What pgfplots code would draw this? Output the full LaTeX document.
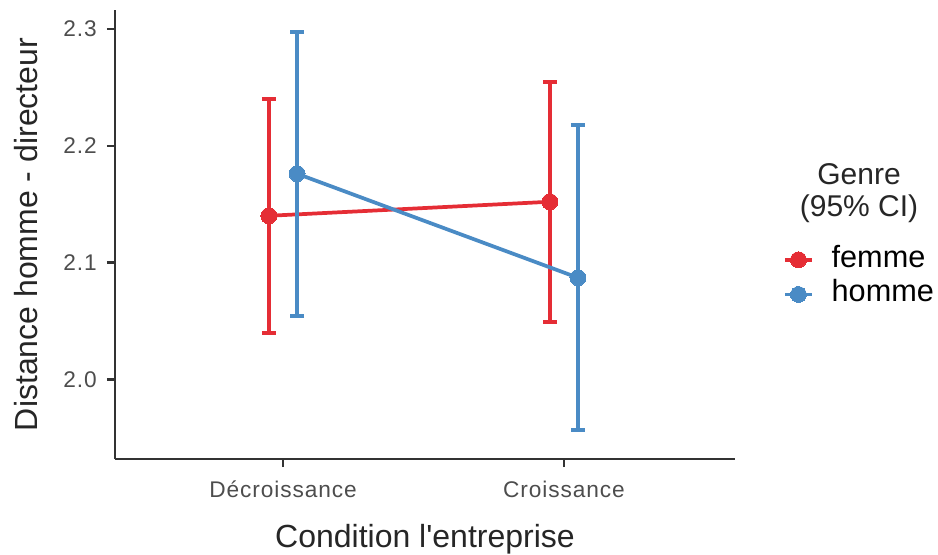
\documentclass[border=0pt]{standalone}
\usepackage{fontspec}
\setmainfont{Liberation Sans}
\newfontfamily\tickfont[LetterSpace=4]{Liberation Sans}
\usepackage{pgfplots}
\pgfplotsset{compat=1.18}
\definecolor{cfemme}{HTML}{E52D35}
\definecolor{chomme}{HTML}{4A8BC5}
\definecolor{axisgray}{HTML}{333333}
\definecolor{tickgray}{HTML}{4D4D4D}
\pgfplotstableread{
x y e
0.95 2.140 0.1000
1.95 2.152 0.1025
}\femme
\pgfplotstableread{
x y e
1.05 2.176 0.1215
2.05 2.087 0.1305
}\homme
\begin{document}
\begin{tikzpicture}
\path[use as bounding box] (0,0) rectangle (703.5pt,415.5pt);
\begin{axis}[
  at={(86.25pt,71.25pt)}, anchor=south west,
  scale only axis, width=465pt, height=336.75pt,
  xmin=0.402, xmax=2.609, ymin=1.932, ymax=2.316,
  axis lines=left, axis line style={-, draw=axisgray, line width=1.6pt},
  xtick={1,2}, xticklabels={Décroissance,Croissance},
  ytick={2.0,2.1,2.2,2.3},
  /pgf/number format/fixed, /pgf/number format/fixed zerofill, /pgf/number format/precision=1,
  /pgf/number format/assume math mode=true,
  ticklabel style={font=\tickfont\fontsize{17}{20}\selectfont, text=tickgray},
  xticklabel style={anchor=north, inner sep=0pt, yshift=-10.5pt},
  yticklabel style={anchor=east, inner sep=0pt, xshift=-7.5pt},
  tick align=outside, major tick length=6pt,
  tick style={draw=axisgray, line width=1.6pt},
  minor tick num=0,
  xlabel={Condition l\textquotesingle entreprise},
  ylabel={Distance homme - directeur},
  label style={font=\fontsize{24}{28}\selectfont, text=black!85, inner sep=0pt},
  xlabel style={at={(axis description cs:0.5,-0.196)}, anchor=base},
  ylabel style={at={(axis description cs:-0.1258,0.5)}, anchor=base},
  legend style={at={(axis description cs:1.0774,0.4050)}, anchor=west,
    draw=none, fill=none, inner sep=0pt, font=\fontsize{23}{24}\selectfont,
    row sep=5pt, nodes={inner sep=0pt, text height=16pt, text depth=5pt},
    /tikz/every odd column/.style={column sep=13.5pt}},
  legend cell align=left,
  legend image code/.code={\draw[mark repeat=2, mark phase=2, #1] plot coordinates {(0pt,0pt) (10pt,0pt) (20pt,0pt)};},
  clip=false,
]
\addplot[cfemme, line width=2.8pt, mark=*, mark size=6pt,
  mark options={solid, fill=cfemme, draw=cfemme, line width=0pt},
  error bars/.cd, y dir=both, y explicit,
  error bar style={line width=3pt, cfemme},
  error mark options={rotate=90, line width=3pt, mark size=5.25pt, cfemme}]
  table[x=x, y=y, y error=e]{\femme};
\addlegendentry{femme}
\addplot[chomme, line width=2.8pt, mark=*, mark size=6pt,
  mark options={solid, fill=chomme, draw=chomme, line width=0pt},
  error bars/.cd, y dir=both, y explicit,
  error bar style={line width=3pt, chomme},
  error mark options={rotate=90, line width=3pt, mark size=5.25pt, chomme}]
  table[x=x, y=y, y error=e]{\homme};
\addlegendentry{homme}
\node[align=center, anchor=base, font=\fontsize{22.5}{24}\selectfont, text=black!85, inner sep=0pt]
  at (axis description cs:1.2,0.539) {Genre\\(95\% CI)};
\end{axis}
\end{tikzpicture}
\end{document}
